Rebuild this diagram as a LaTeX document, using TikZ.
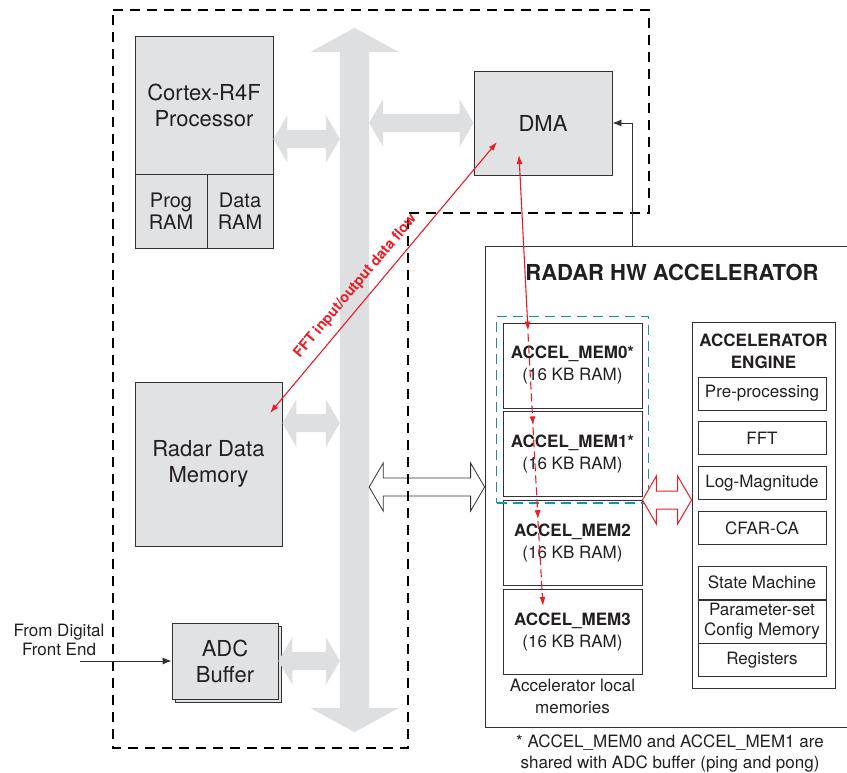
\documentclass[tikz,border=0pt]{standalone}
\usepackage{fontspec}
\setmainfont{TeX Gyre Heros}
\usetikzlibrary{shapes, arrows.meta, positioning, fit, calc, shadows}

\definecolor{boxgray}{RGB}{225,226,228}
\definecolor{busgray}{RGB}{222,223,225}
\definecolor{edgegray}{RGB}{50,50,50}
\definecolor{flowred}{RGB}{236,28,36}
\definecolor{sharedteal}{RGB}{20,150,162}
\definecolor{inkblack}{RGB}{35,31,32}

\newcommand{\bigfont}{\fontsize{22}{26}\selectfont}
\newcommand{\ramfont}{\fontsize{20}{22}\selectfont}
\newcommand{\smallfont}{\fontsize{17}{22}\selectfont}

% horizontal block arrow with two heads: [style]{left tip}{right tip}
\newcommand{\blockarrow}[3][]{%
  \path[#1] (#2) -- ++(14,-24) -- ++(0,15) -- ($(#3)+(-14,-9)$) -- ++(0,-15)
    -- (#3) -- ++(-14,24) -- ++(0,-15) -- ($(#2)+(14,9)$) -- ++(0,15) -- cycle;}

\begin{document}
\begin{tikzpicture}[x=1pt, y=-1pt, text=inkblack]
\tikzstyle{block} = [draw=edgegray, fill=boxgray, line width=0.9pt, inner sep=0pt, align=center, font=\bigfont]
\tikzstyle{membox} = [draw=edgegray, line width=0.8pt, minimum width=139pt, minimum height=85pt, inner sep=0pt, align=center, font=\smallfont]
\tikzstyle{enginebox} = [draw=edgegray, line width=0.8pt, minimum width=128pt, minimum height=33pt, inner sep=0pt, align=center, font=\smallfont]
\tikzstyle{busarrow} = [fill=busgray]
\tikzstyle{dataflow} = [flowred, line width=1.1pt, {Latex[length=9pt,width=6pt]}-{Latex[length=9pt,width=6pt]}]
\tikzstyle{memchain} = [flowred, line width=1.1pt, dash pattern=on 8pt off 4pt, -{Latex[length=9pt,width=6pt]}]
\tikzstyle{feedarrow} = [edgegray, line width=0.9pt, -{Latex[length=9pt,width=7pt]}]
\tikzstyle{boundary} = [line width=1.2pt, dash pattern=on 10pt off 7pt]

\useasboundingbox (0,0) rectangle (847,773);

% interconnect bus
\node[minimum width=29pt, minimum height=656pt, inner sep=0pt] (bus) at (354.5,380) {};
\fill[busgray] (bus.north west) -- ++(-29,0) -- ([yshift=24pt]bus.north) -- ($(bus.north east)+(29,0)$)
  -- (bus.north east) -- (bus.south east) -- ++(29,0) -- ([yshift=-24pt]bus.south)
  -- ($(bus.south west)+(-29,0)$) -- (bus.south west) -- cycle;

% master subsystem
\node[block, minimum width=138pt, minimum height=138pt] (cpu) at (204,105) {Cortex-R4F\\Processor};
\node[block, minimum width=72pt, minimum height=74pt, font=\ramfont] (prog) at (171,211) {Prog\\RAM};
\node[block, minimum width=66pt, minimum height=74pt, font=\ramfont] (dram) at (240,211) {Data\\RAM};
\node[block, minimum width=138pt, minimum height=104pt] (dma) at (543,123) {DMA};
\node[block, minimum width=147pt, minimum height=164pt] (rdm) at (208.5,464) {Radar Data\\Memory};
\node[block, minimum width=106pt, minimum height=76pt, copy shadow={shadow xshift=3pt, shadow yshift=-3pt}] (adc) at (225,661) {ADC\\Buffer};

\blockarrow[busarrow]{cpu.east |- 0,139}{bus.west |- 0,139}
\blockarrow[busarrow]{bus.east |- dma.west}{dma.west}
\blockarrow[busarrow]{rdm.east |- 0,423}{bus.west |- 0,423}
\blockarrow[busarrow]{adc.east}{bus.west |- adc.east}

% radar hardware accelerator
\node[draw=edgegray, line width=0.8pt, minimum width=367pt, minimum height=481pt] (hwa) at (668.5,486.5) {};
\node[font=\bfseries\bigfont] (hwatitle) at (672,272) {RADAR HW ACCELERATOR};

\node[membox] (mem0) at (572.5,365.5) {\textbf{ACCEL\_MEM0*}\\(16 KB RAM)};
\node[membox, below=3pt of mem0] (mem1) {\textbf{ACCEL\_MEM1*}\\(16 KB RAM)};
\node[membox, below=3pt of mem1] (mem2) {\textbf{ACCEL\_MEM2}\\(16 KB RAM)};
\node[membox, below=3pt of mem2] (mem3) {\textbf{ACCEL\_MEM3}\\(16 KB RAM)};
\node[font=\smallfont, align=center, below=1pt of mem3] (localmem) {Accelerator local\\memories};
\node[draw=sharedteal, line width=1.6pt, dash pattern=on 10pt off 6pt, inner sep=6pt, fit=(mem0)(mem1)] (shared) {};

\node[draw=edgegray, line width=0.8pt, minimum width=143pt, minimum height=366pt] (engine) at (763.5,505) {};
\node[font=\bfseries\smallfont, align=center] (engtitle) at (763.5,351) {ACCELERATOR\\ENGINE};
\node[enginebox] (pre) at (762,393.5) {Pre-processing};
\node[enginebox, below=11pt of pre] (fft) {FFT};
\node[enginebox, below=11pt of fft] (logmag) {Log-Magnitude};
\node[enginebox, below=11pt of logmag] (cfar) {CFAR-CA};
\node[enginebox, below=21pt of cfar] (fsm) {State Machine};
\node[enginebox, below=0pt of fsm, minimum height=43pt, font=\fontsize{17}{20}\selectfont] (param) {Parameter-set\\Config Memory};
\node[enginebox, below=0pt of param] (regs) {Registers};

\blockarrow[draw=edgegray, line width=0.8pt, fill=white]{bus.east |- 0,487}{hwa.west |- 0,487}
\blockarrow[draw=flowred, line width=1pt, fill=white]{mem1.east |- 0,500}{engine.west |- 0,500}

% subsystem boundary
\draw[boundary] (113,10) -- (649,10) -- (649,213) -- (408,213) -- (408,748) -- (113,748) -- cycle;

\draw[feedarrow] (hwa.north -| 632,0) |- (dma.east);

% data flow
\draw[dataflow] ([shift={(61.5,-51)}]rdm.center) -- ([shift={(-46,19)}]dma.center)
  node[pos=0.43, sloped, above=5pt, text=flowred, font=\bfseries\fontsize{14.5}{15}\selectfont] {FFT input/output data flow};
\draw[dataflow] ([shift={(-24,32)}]dma.center) -- ([shift={(-44.5,8)}]mem0.north);
\draw[memchain] ([shift={(-44.5,11)}]mem0.north) -- ([shift={(-39.5,14)}]mem1.north);
\draw[memchain] ([shift={(-39.5,16)}]mem1.north) -- ([shift={(-34.5,19)}]mem2.north);
\draw[memchain] ([shift={(-34.5,21)}]mem2.north) -- ([shift={(-29.5,17)}]mem3.north);

% external input and note
\node[font=\fontsize{17}{19}\selectfont, align=center] (frontend) at (59,640) {From Digital\\Front End};
\coordinate (fdein) at (80,661);
\draw[feedarrow] (fdein) -- (adc.west);
\node[font=\fontsize{17}{21}\selectfont, align=center] (footnote) at (670,753.5) {* ACCEL\_MEM0 and ACCEL\_MEM1 are\\shared with ADC buffer (ping and pong)};
\end{tikzpicture}
\end{document}
